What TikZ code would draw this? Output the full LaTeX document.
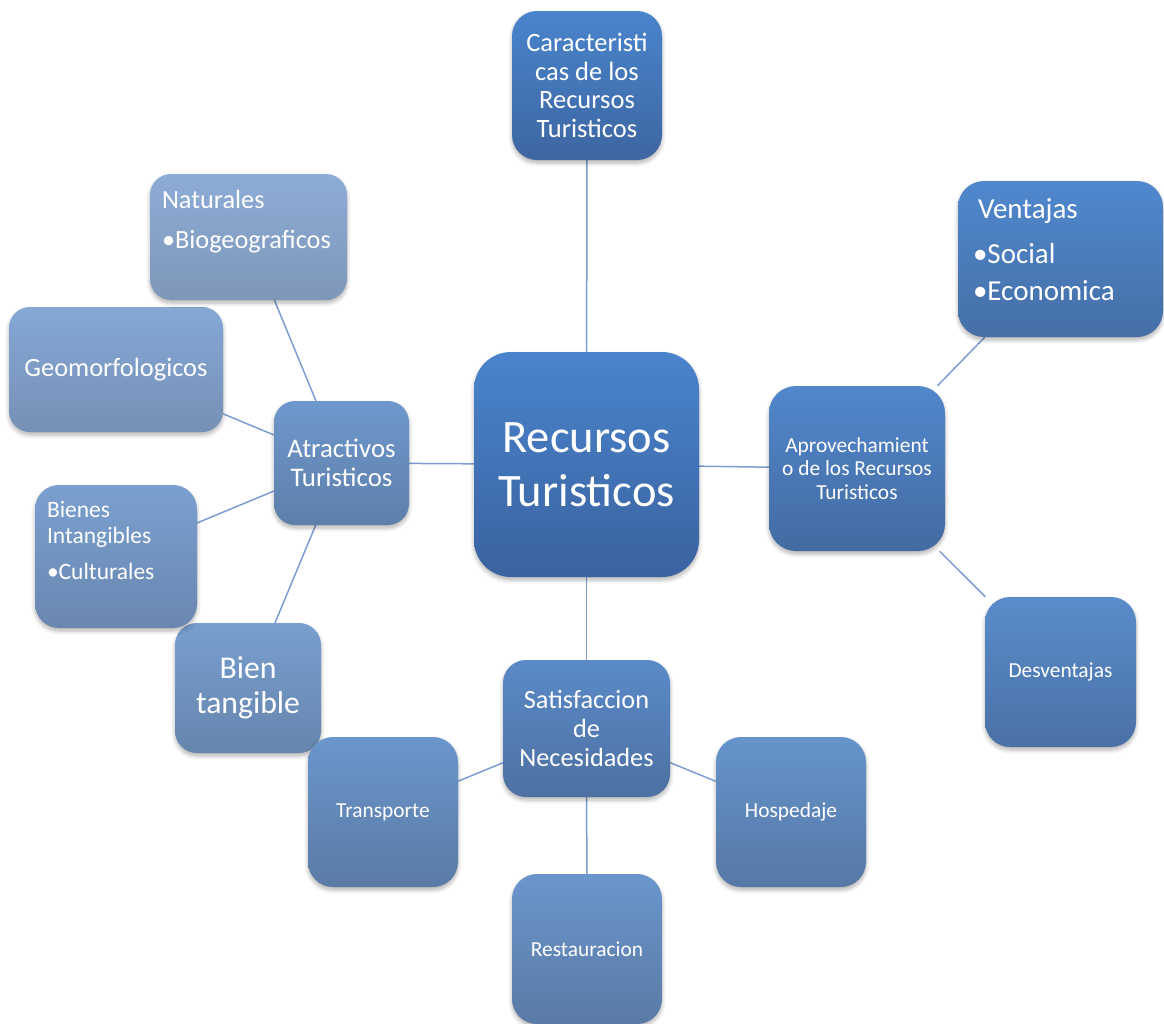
\documentclass[tikz,border=0pt]{standalone}
\usepackage{fontspec}
\setmainfont{Carlito}
\usetikzlibrary{backgrounds,shadows.blur}
\definecolor{conncol}{HTML}{7E9DD2}
\tikzset{
  x=1pt, y=-1pt,
  box/.style={draw=none, text=white, align=center, inner sep=0pt,
    blur shadow={shadow xshift=0pt, shadow yshift=-3pt, shadow blur radius=4pt, shadow blur steps=6, shadow opacity=30}},
  conn/.style={draw=conncol, line width=1.5pt},
}
\begin{document}
\begin{tikzpicture}
\useasboundingbox (0,0) rectangle (1164,1023);
% centre
\node[box, minimum width=225pt, minimum height=225pt, rounded corners=37pt,
  top color={rgb,255:red,74;green,132;blue,204}, bottom color={rgb,255:red,58;green,98;blue,160},
  font=\fontsize{46.5}{54}\selectfont] (rt) at (586.5,464.5) {Recursos\\Turisticos};
% caracteristicas
\node[box, minimum width=150pt, minimum height=149pt, rounded corners=25pt,
  top color={rgb,255:red,74;green,132;blue,204}, bottom color={rgb,255:red,61;green,102;blue,162},
  font=\fontsize{26.5}{28.5}\selectfont] (car) at (587,85.5) {Caracteristi\\cas de los\\Recursos\\Turisticos};
% ventajas
\node[box, minimum width=205pt, minimum height=156pt, rounded corners=26pt,
  top color={rgb,255:red,80;green,136;blue,206}, bottom color={rgb,255:red,69;green,111;blue,166}] (ven) at (1060.5,259)
  {\parbox[c][156pt][t]{205pt}{\fontsize{29}{37}\selectfont\raggedright
   \hspace*{20pt}\rule{0pt}{37pt}Ventajas\\[8pt]
   \hspace*{15pt}•Social\\
   \hspace*{15pt}•Economica}};
% aprovechamiento
\node[box, minimum width=176pt, minimum height=165pt, rounded corners=27pt,
  top color={rgb,255:red,82;green,135;blue,204}, bottom color={rgb,255:red,67;green,107;blue,162},
  font=\fontsize{21.4}{23.5}\selectfont] (apr) at (857,468.5) {Aprovechamient\\o de los Recursos\\Turisticos};
% desventajas
\node[box, minimum width=151pt, minimum height=150pt, rounded corners=25pt,
  top color={rgb,255:red,90;green,140;blue,203}, bottom color={rgb,255:red,74;green,113;blue,166},
  font=\fontsize{21.4}{23.5}\selectfont] (des) at (1060.5,672) {Desventajas};
% satisfaccion
\node[box, minimum width=167pt, minimum height=137pt, rounded corners=23pt,
  top color={rgb,255:red,90;green,138;blue,200}, bottom color={rgb,255:red,77;green,113;blue,162},
  font=\fontsize{26.3}{29}\selectfont] (sat) at (586.5,728.5) {Satisfaccion\\de\\Necesidades};
% hospedaje
\node[box, minimum width=150pt, minimum height=150pt, rounded corners=25pt,
  top color={rgb,255:red,101;green,148;blue,203}, bottom color={rgb,255:red,86;green,120;blue,166},
  font=\fontsize{21.4}{23.5}\selectfont] (hos) at (791,812) {Hospedaje};
% restauracion
\node[box, minimum width=150pt, minimum height=150pt, rounded corners=25pt,
  top color={rgb,255:red,106;green,150;blue,204}, bottom color={rgb,255:red,90;green,122;blue,165},
  font=\fontsize{21.4}{23.5}\selectfont] (res) at (587,949) {Restauracion};
% bien tangible
\node[box, minimum width=146pt, minimum height=130pt, rounded corners=22pt,
  top color={rgb,255:red,120;green,159;blue,207}, bottom color={rgb,255:red,102;green,133;blue,173},
  font=\fontsize{31.7}{35}\selectfont] (bt) at (248,688) {Bien\\tangible};
% transporte
\node[box, minimum width=150pt, minimum height=150pt, rounded corners=25pt,
  top color={rgb,255:red,106;green,150;blue,204}, bottom color={rgb,255:red,90;green,123;blue,165},
  font=\fontsize{21.4}{23.5}\selectfont] (tra) at (383,812) {Transporte};
% atractivos
\node[box, minimum width=135pt, minimum height=124pt, rounded corners=21pt,
  top color={rgb,255:red,110;green,152;blue,205}, bottom color={rgb,255:red,94;green,127;blue,170},
  font=\fontsize{26.8}{29}\selectfont] (atr) at (341.5,463) {Atractivos\\Turisticos};
% bienes intangibles
\node[box, minimum width=162pt, minimum height=143pt, rounded corners=24pt,
  top color={rgb,255:red,122;green,160;blue,208}, bottom color={rgb,255:red,106;green,135;blue,176}] (bi) at (116,556.5)
  {\parbox[c][143pt][t]{162pt}{\fontsize{23.5}{26}\selectfont\raggedright
   \hspace*{12pt}\rule{0pt}{32pt}Bienes\\
   \hspace*{12pt}Intangibles\\[10pt]
   \hspace*{12pt}•Culturales}};
% geomorfologicos
\node[box, minimum width=214pt, minimum height=125pt, rounded corners=21pt,
  top color={rgb,255:red,133;green,168;blue,214}, bottom color={rgb,255:red,118;green,144;blue,181},
  font=\fontsize{26.4}{29}\selectfont] (geo) at (116,369.5) {Geomorfologicos};
% naturales
\node[box, minimum width=197pt, minimum height=126pt, rounded corners=21pt,
  top color={rgb,255:red,141;green,172;blue,214}, bottom color={rgb,255:red,126;green,151;blue,185}] (nat) at (248.5,237)
  {\parbox[c][126pt][t]{197pt}{\fontsize{26.3}{31}\selectfont\raggedright
   \hspace*{12pt}\rule{0pt}{34pt}Naturales\\[9pt]
   \hspace*{12pt}•Biogeograficos}};
% connectors
\begin{pgfonlayer}{background}
\draw[conn] (rt) -- (car);
\draw[conn] (rt) -- (apr);
\draw[conn] (rt) -- (sat);
\draw[conn] (rt) -- (atr);
\draw[conn] (apr) -- (ven);
\draw[conn] (apr) -- (des);
\draw[conn] (sat) -- (hos);
\draw[conn] (sat) -- (res);
\draw[conn] (sat) -- (tra);
\draw[conn] (atr) -- (nat);
\draw[conn] (atr) -- (geo);
\draw[conn] (atr) -- (bi);
\draw[conn] (atr) -- (bt);
\end{pgfonlayer}
\end{tikzpicture}
\end{document}
